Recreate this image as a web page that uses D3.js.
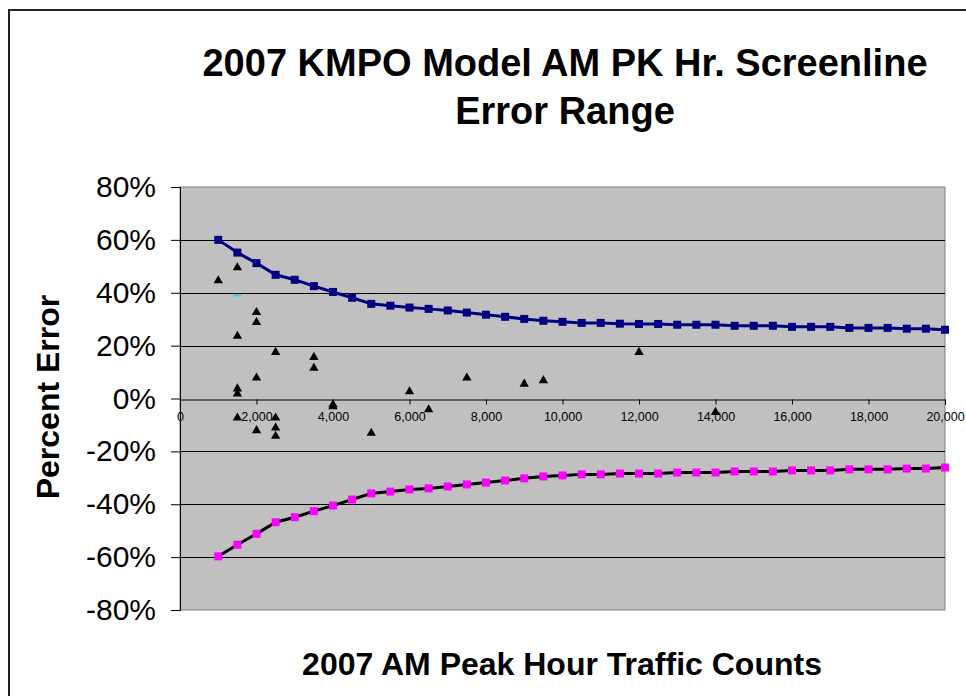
<!DOCTYPE html>
<html><head><meta charset="utf-8">
<script src="https://cdn.jsdelivr.net/npm/d3@7"></script>
<style>html,body{margin:0;padding:0;background:#fff;overflow:hidden;}</style>
</head><body>
<script>
// ---- data ----
const boundCounts = [1000,1500,2000,2500,3000,3500,4000,4500,5000,5500,6000,6500,7000,7500,8000,8500,9000,9500,10000,10500,11000,11500,12000,12500,13000,13500,14000,14500,15000,15500,16000,16500,17000,17500,18000,18500,19000,19500,20000];
const upperBound = [60,55.2,51.2,46.8,44.9,42.5,40.3,38.1,35.8,35.1,34.4,33.9,33.3,32.5,31.7,30.9,30.1,29.4,29.0,28.6,28.6,28.3,28.2,28.2,27.9,27.9,27.9,27.5,27.5,27.5,27.1,27.1,27.1,26.7,26.7,26.7,26.4,26.4,26.0];
const lowerBound = [-59.7,-55.3,-51.2,-46.8,-44.9,-42.6,-40.5,-38.2,-35.9,-35.2,-34.4,-34.0,-33.3,-32.5,-31.8,-31.0,-30.2,-29.5,-29.1,-28.7,-28.7,-28.4,-28.4,-28.4,-28.0,-28.0,-28.0,-27.6,-27.6,-27.6,-27.2,-27.2,-27.2,-26.8,-26.8,-26.8,-26.5,-26.5,-26.1];
const obsCounts = [1000,1500,1500,1500,1500,1500,2000,2000,2000,2000,2500,2500,2500,2500,3500,3500,4000,4000,5000,6000,6500,7500,9000,9500,12000,14000];
const obsError  = [44.6,49.5,23.6,3.7,1.8,-7.3,32.6,28.8,7.8,-12.1,17.5,-7.3,-11.1,-14.2,15.6,11.5,-2.3,-3.0,-13.1,2.6,-4.2,7.8,5.5,6.8,17.5,-5.2];
const otherCounts = [1500];
const otherError = [39];
const yTicks = [-80,-60,-40,-20,0,20,40,60,80];
const xTicks = [0,2000,4000,6000,8000,10000,12000,14000,16000,18000,20000];
const titleLines = ["2007 KMPO Model AM PK Hr. Screenline","Error Range"];
const xTitle = "2007 AM Peak Hour Traffic Counts";
const yTitle = "Percent Error";

const W = 966, H = 696;
const svg = d3.select("body").append("svg").attr("width", W).attr("height", H)
  .style("font-family", "Arial, 'Liberation Sans', sans-serif");

// outer chart border
svg.append("rect").attr("x", 9).attr("y", 10).attr("width", 1100).attr("height", 1100)
  .attr("fill", "#fff").attr("stroke", "#222").attr("stroke-width", 2);

const x = d3.scaleLinear().domain([0, 20000]).range([180, 945]);
const y = d3.scaleLinear().domain([-80, 80]).range([610, 187]);

// plot area
svg.append("rect").attr("x", x(0)).attr("y", y(80)).attr("width", x(20000) - x(0)).attr("height", y(-80) - y(80))
  .attr("fill", "#C0C0C0").attr("stroke", "#808080").attr("stroke-width", 1);

// gridlines
svg.append("g").selectAll("line").data(yTicks.filter(d => d !== 80 && d !== -80 && d !== 0)).join("line")
  .attr("x1", x(0)).attr("x2", x(20000)).attr("y1", d => Math.round(y(d)) + 0.5).attr("y2", d => Math.round(y(d)) + 0.5)
  .attr("stroke", "#000").attr("stroke-width", 1);

// y axis
const yAxis = d3.axisLeft(y).tickValues(yTicks).tickFormat(d => d + "%").tickSize(9).tickPadding(15);
const gy = svg.append("g").attr("transform", `translate(${x(0)},0)`).call(yAxis);
gy.select(".domain").attr("stroke", "#000");
gy.selectAll(".tick line").attr("stroke", "#000");
gy.selectAll("text").attr("font-size", 30).attr("fill", "#000").attr("font-family", "Arial, 'Liberation Sans', sans-serif");

// x axis at zero
const xAxis = d3.axisBottom(x).tickValues(xTicks).tickFormat(d3.format(",")).tickSize(5).tickPadding(8);
const gx = svg.append("g").attr("transform", `translate(0,${Math.round(y(0)) + 0.5})`).call(xAxis);
gx.select(".domain").attr("stroke", "#000");
gx.selectAll(".tick line").attr("stroke", "#000");
gx.selectAll("text").attr("font-size", 12.5).attr("fill", "#000").attr("font-family", "Arial, 'Liberation Sans', sans-serif");

// bound lines
const upperData = boundCounts.map((c, i) => [c, upperBound[i]]);
const lowerData = boundCounts.map((c, i) => [c, lowerBound[i]]);
const line = d3.line().x(d => x(d[0])).y(d => y(d[1]));

svg.append("path").datum(upperData).attr("d", line).attr("fill", "none").attr("stroke", "#000080").attr("stroke-width", 3);
svg.append("g").selectAll("rect").data(upperData).join("rect")
  .attr("x", d => x(d[0]) - 4).attr("y", d => y(d[1]) - 4).attr("width", 8).attr("height", 8).attr("fill", "#000080");

svg.append("path").datum(lowerData).attr("d", line).attr("fill", "none").attr("stroke", "#000").attr("stroke-width", 3);
svg.append("g").selectAll("rect").data(lowerData).join("rect")
  .attr("x", d => x(d[0]) - 4).attr("y", d => y(d[1]) - 4).attr("width", 8).attr("height", 8).attr("fill", "#FF00FF");

// observations
const tri = d3.symbol().type(d3.symbolTriangle).size(38);
svg.append("g").selectAll("path").data(obsCounts.map((c, i) => [c, obsError[i]])).join("path")
  .attr("d", tri).attr("transform", d => `translate(${x(d[0])},${y(d[1])})`).attr("fill", "#000");

// other series (dash marker)
svg.append("g").selectAll("rect").data(otherCounts.map((c, i) => [c, otherError[i]])).join("rect")
  .attr("x", d => x(d[0]) - 4).attr("y", d => y(d[1]) - 1).attr("width", 8).attr("height", 2).attr("fill", "#33CCFF");

// titles
svg.append("text").attr("x", 565).attr("y", 76).attr("text-anchor", "middle").attr("font-size", 38).attr("font-weight", "bold").text(titleLines[0]);
svg.append("text").attr("x", 565).attr("y", 124).attr("text-anchor", "middle").attr("font-size", 38).attr("font-weight", "bold").text(titleLines[1]);
svg.append("text").attr("x", 562).attr("y", 675).attr("text-anchor", "middle").attr("font-size", 32).attr("font-weight", "bold").text(xTitle);
svg.append("text").attr("transform", "translate(59,397) rotate(-90)").attr("text-anchor", "middle").attr("font-size", 32).attr("font-weight", "bold").text(yTitle);
</script>
</body></html>
